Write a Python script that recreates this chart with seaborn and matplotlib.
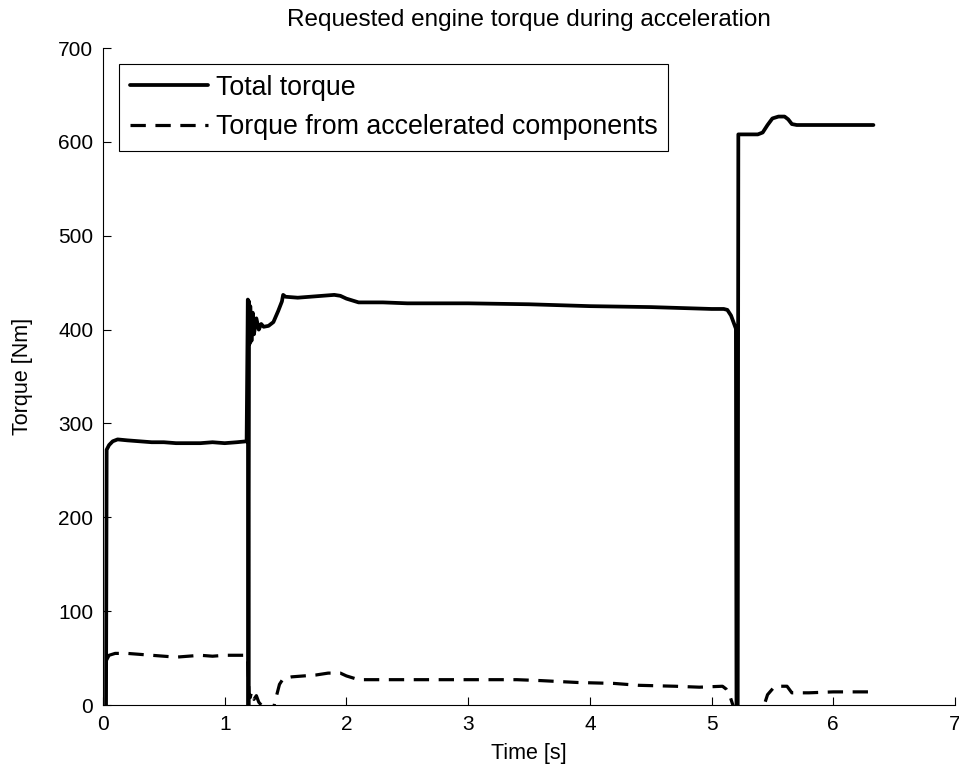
import matplotlib
matplotlib.use("Agg")
import matplotlib.pyplot as plt
import seaborn as sns
import pandas as pd

# ---- data ----
t_total = [0.025, 0.03, 0.05, 0.08, 0.12, 0.2, 0.3, 0.4, 0.5, 0.6, 0.7, 0.8, 0.9, 1.0, 1.1, 1.18,
           1.19, 1.195, 1.20, 1.205, 1.21, 1.22, 1.23, 1.24, 1.26, 1.28, 1.30, 1.32, 1.36, 1.40,
           1.44, 1.47, 1.48, 1.50, 1.6, 1.7, 1.8, 1.9, 1.95, 2.0, 2.05, 2.1, 2.3, 2.5, 3.0, 3.5,
           4.0, 4.5, 5.0, 5.1, 5.13, 5.16, 5.18, 5.20, 5.205, 5.215, 5.22, 5.3, 5.38, 5.42, 5.46,
           5.50, 5.55, 5.60, 5.63, 5.66, 5.70, 5.8, 6.0, 6.2, 6.33]
total_torque = [0, 272, 277, 281, 283, 282, 281, 280, 280, 279, 279, 279, 280, 279, 280, 281,
                432, 0, 430, 385, 425, 388, 418, 395, 412, 400, 406, 403, 404, 408,
                420, 430, 437, 435, 434, 435, 436, 437, 436, 433, 431, 429, 429, 428, 428, 427,
                425, 424, 422, 422, 421, 415, 408, 401, 0, 0, 608, 608, 608, 610, 618,
                625, 627, 627, 624, 619, 618, 618, 618, 618, 618]

t_acc = [0.03, 0.05, 0.1, 0.2, 0.3, 0.4, 0.5, 0.6, 0.7, 0.8, 0.9, 1.0, 1.1, 1.18, 1.19, 1.20,
         1.21, 1.22, 1.24, 1.26, 1.28, 1.30, 1.35, 1.40, 1.41, 1.43, 1.45, 1.48, 1.55, 1.65,
         1.75, 1.85, 1.95, 2.0, 2.05, 2.1, 2.3, 2.6, 3.0, 3.4, 3.6, 3.9, 4.2, 4.4, 4.7, 4.9,
         5.09, 5.12, 5.15, 5.17, 5.19, 5.25, 5.35, 5.44, 5.46, 5.52, 5.58, 5.62, 5.66, 5.8,
         6.0, 6.3]
acc_torque = [48, 53, 55, 55, 54, 53, 52, 51, 52, 53, 52, 53, 53, 53, 45, 12,
              8, 14, 6, 10, 3, 0, -10, -5, 2, 12, 22, 28, 30, 31,
              32, 34, 34, 31, 29, 27, 27, 27, 27, 27, 26, 24, 23, 21, 20, 19,
              20, 17, 10, 2, -5, -10, -10, 3, 11, 20, 20, 20, 13, 13,
              14, 14]

x_ticks = [0, 1, 2, 3, 4, 5, 6, 7]
y_ticks = [0, 100, 200, 300, 400, 500, 600, 700]

df_total = pd.DataFrame({"Time": t_total, "Torque": total_torque})
df_acc = pd.DataFrame({"Time": t_acc, "Torque": acc_torque})

sns.set_style("white")
plt.rcParams["font.family"] = ["Liberation Sans", "DejaVu Sans"]
plt.rcParams["text.color"] = "black"

fig = plt.figure(figsize=(9.59, 7.75), dpi=100)
ax = fig.add_axes([0.1074, 0.0903, 0.8884, 0.8477])

sns.lineplot(data=df_total, x="Time", y="Torque", ax=ax, color="black", lw=2.7,
             estimator=None, sort=False, label="Total torque")
sns.lineplot(data=df_acc, x="Time", y="Torque", ax=ax, color="black", lw=2.3,
             estimator=None, sort=False, label="Torque from accelerated components",
             linestyle=(0, (4.8, 3.0)))

ax.set_xlim(0, 7)
ax.set_ylim(0, 700)
ax.set_xticks(x_ticks)
ax.set_yticks(y_ticks)
ax.tick_params(direction="in", length=6, width=0.8, colors="black", labelsize=15,
               top=False, right=False, bottom=True, left=True, pad=7)
for s in ["top", "right"]:
    ax.spines[s].set_visible(False)
for s in ["left", "bottom"]:
    ax.spines[s].set_color("black")
    ax.spines[s].set_linewidth(0.8)

ax.set_xlabel("Time [s]", fontsize=15.5, color="black", labelpad=7)
ax.set_ylabel("Torque [Nm]", fontsize=15.5, color="black", labelpad=18)
ax.set_title("Requested engine torque during acceleration", fontsize=17.5, color="black", pad=16)

leg = ax.legend(loc="upper left", fontsize=19.3, frameon=True, fancybox=False, framealpha=1,
                edgecolor="black", handlelength=2.9, handletextpad=0.3, borderaxespad=0.6,
                borderpad=0.4, labelspacing=0.5, labelcolor="black")
leg.get_frame().set_linewidth(0.8)

fig.savefig("out.png", dpi=100)
